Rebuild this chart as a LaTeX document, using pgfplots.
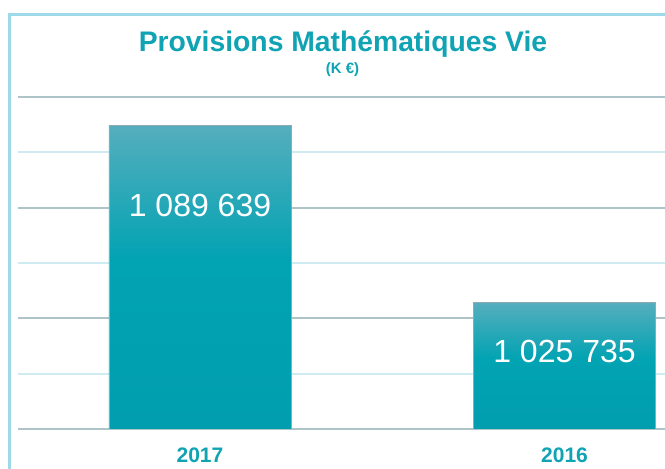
\documentclass[border=0pt]{standalone}
\usepackage{pgfplots}
\pgfplotsset{compat=1.18}
\usepackage{fontspec}
\setmainfont{Liberation Sans}
\definecolor{teal1}{HTML}{0FA3B3}
\definecolor{frameblue}{HTML}{9DD9E9}
\definecolor{gridgray}{HTML}{AFC4C8}
\definecolor{gridcyan}{HTML}{CDEBF1}
\definecolor{bartop}{HTML}{55AEBD}
\definecolor{barmid}{HTML}{02A3B3}
\definecolor{barbot}{HTML}{009EAF}
\definecolor{baredge}{HTML}{8FAAB0}
\pgfdeclareverticalshading{barshade}{100bp}{color(0bp)=(barbot); color(25bp)=(barbot); color(53bp)=(barmid); color(75bp)=(bartop); color(100bp)=(bartop)}
\tikzset{mybar/.style={ybar, bar width=182pt, bar shift=0pt, draw=baredge, line width=0.5pt, shading=barshade, mark=none}}
\begin{document}
\begin{tikzpicture}[x=1pt,y=1pt]
\useasboundingbox (0,0) rectangle (665,469);
\draw[frameblue, line width=3pt] (9.8,-5) -- (9.8,454.5) -- (670,454.5);
\node[anchor=base, text=teal1, font=\fontsize{28.3}{28}\selectfont\bfseries] at (343,417) {Provisions Mathématiques Vie};
\node[anchor=base, text=teal1, font=\fontsize{15}{15}\selectfont\bfseries] at (342.5,395) {(K €)};
\begin{axis}[
  at={(18pt,40pt)}, anchor=south west,
  scale only axis, width=647pt, height=332pt,
  xmin=-0.4993, xmax=1.2757,
  ymin=0, ymax=120000,
  y filter/.expression={y-980000},
  axis line style={draw=none},
  ytick={0,40000,80000,120000},
  yticklabels={},
  extra y ticks={20000,60000,100000},
  extra y tick labels={},
  ymajorgrids,
  major grid style={draw=gridgray, line width=1.8pt},
  extra y tick style={major grid style={draw=gridcyan, line width=1.8pt}},
  major tick length=0pt,
  xtick={0,1},
  xticklabels={2017,2016},
  xticklabel style={font=\fontsize{21}{21}\selectfont\bfseries, text=teal1, anchor=base, yshift=-34pt},
  scaled y ticks=false,
]
\addplot[mybar] coordinates {(0,1089639)};
\addplot[mybar] coordinates {(1,1025735)};
\node[anchor=base, text=white, font=\fontsize{32}{32}\selectfont] at (axis cs:0,76627) {1 089 639};
\node[anchor=base, text=white, font=\fontsize{32}{32}\selectfont] at (axis cs:1,23855) {1 025 735};
\end{axis}
\end{tikzpicture}
\end{document}
